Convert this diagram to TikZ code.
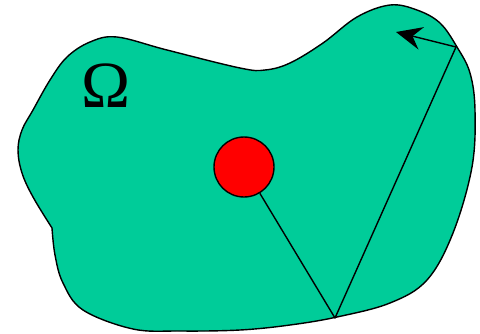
\documentclass[tikz,border=0pt]{standalone}
\usepackage{fontspec}
\setmainfont{Liberation Serif}
\usetikzlibrary{arrows.meta}
\definecolor{blobgreen}{RGB}{0,204,153}
\tikzset{
  edge/.style={line width=1.4pt, line join=round},
  region/.style={fill=blobgreen, draw=black, line width=1.4pt, line join=round},
  source/.style={circle, fill=red, draw=black, line width=1.4pt, minimum size=60pt, inner sep=0pt},
  ray/.style={edge, -{Stealth[length=26pt, width=23pt, inset=9pt]}}
}
\begin{document}
\begin{tikzpicture}[x=1pt, y=-1pt]
\useasboundingbox (0,0) rectangle (480,333);
\draw[region] plot[smooth, tension=0.6] coordinates {
  (52,228) (33,197) (22,173) (18,150) (22,130) (33,110) (50,80) (67,57) (90,42) (117,37)
  (167,50) (240,68) (265,70) (290,63) (323,43) (357,17) (390,5) (417,10) (440,23)
  (457,47) (470,73) (475,110) (472,167) (453,233) (427,280) (390,303) (337,317)
  (290,325) (240,330) (180,331) (133,329) (83,310) (63,283) (55,255) (52,228)} -- cycle;
\node (omega) at (106,86) {\fontsize{66}{66}\selectfont Ω};
\coordinate (b) at (335,318);
\coordinate (t) at (456,47);
\coordinate (a) at (396,32);
\node[source] (c) at (244,167) {};
\draw[edge] (c) -- (b) -- (t);
\draw[ray] (t) -- (a);
\end{tikzpicture}
\end{document}
